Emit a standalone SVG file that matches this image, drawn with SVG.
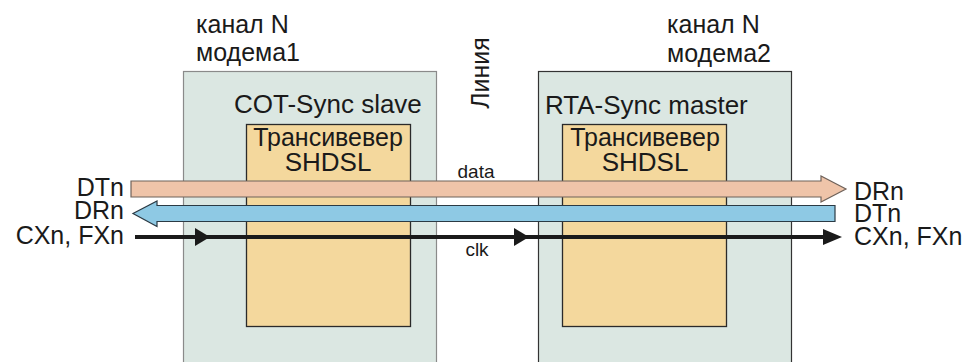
<svg xmlns="http://www.w3.org/2000/svg" width="971" height="362" viewBox="0 0 971 362">
<style>
text{font-family:"Liberation Sans",Arial,sans-serif;fill:#1a1a1a}
.lbl{font-size:26px}
.side{font-size:25px}
.cy{font-size:25px}
.sm{font-size:19px}
.outer{fill:#dbe7e2;stroke-width:1.2}
.inner{fill:#f4d89d;stroke:#2a2a2a;stroke-width:1.3}
</style>
<rect width="971" height="362" fill="#fff"/>
<g id="modem1">
<rect class="outer" x="183.5" y="71.5" width="253" height="300" stroke="#8a8a8a"/>
<text class="cy" x="196" y="33">канал N</text>
<text class="cy" x="196" y="61">модема1</text>
<text class="lbl" x="234" y="113">COT-Sync slave</text>
</g>
<g id="transceiver1">
<rect class="inner" x="246.5" y="124.5" width="164" height="202" stroke="#555"/>
<text class="cy" x="328" y="146" text-anchor="middle">Трансивевер</text>
<text class="lbl" x="328" y="171" text-anchor="middle">SHDSL</text>
</g>
<g id="modem2">
<rect class="outer" x="538.5" y="71.5" width="253" height="300" stroke="#333"/>
<text class="cy" x="667" y="33">канал N</text>
<text class="cy" x="667" y="62">модема2</text>
<text class="lbl" x="545" y="114">RTA-Sync master</text>
</g>
<g id="transceiver2">
<rect class="inner" x="562.5" y="124.5" width="164" height="202"/>
<text class="cy" x="645" y="146" text-anchor="middle">Трансивевер</text>
<text class="lbl" x="645" y="171" text-anchor="middle">SHDSL</text>
</g>
<g id="line">
<text class="cy" transform="translate(489,73) rotate(-90)" text-anchor="middle">Линия</text>
</g>
<g id="connectors">
<polygon points="131,181 821,181 821,176 846,189 821,202 821,197 131,197" fill="#efc4a9" stroke="#6f625a" stroke-width="1.2"/>
<polygon points="835,205.5 157,205.5 157,201 133,213.5 157,226.5 157,221.5 835,221.5" fill="#8ec9e4" stroke="#2b3a44" stroke-width="1.2"/>
<line x1="135" y1="237" x2="830" y2="237" stroke="#1a1a1a" stroke-width="4"/>
<polygon points="195,228 210,237 195,246" fill="#1a1a1a"/>
<polygon points="514,228 529,237 514,246" fill="#1a1a1a"/>
<polygon points="823,229 842,237 823,245" fill="#1a1a1a"/>
<text class="sm" x="476" y="178" text-anchor="middle">data</text>
<text class="sm" x="477" y="256" text-anchor="middle">clk</text>
</g>
<g id="labels">
<text class="side" x="124" y="196" text-anchor="end">DTn</text>
<text class="side" x="124" y="219" text-anchor="end">DRn</text>
<text class="side" x="124" y="244" text-anchor="end">CXn, FXn</text>
<text class="side" x="854" y="200">DRn</text>
<text class="side" x="854" y="222">DTn</text>
<text class="side" x="854" y="245">CXn, FXn</text>
</g>
</svg>
